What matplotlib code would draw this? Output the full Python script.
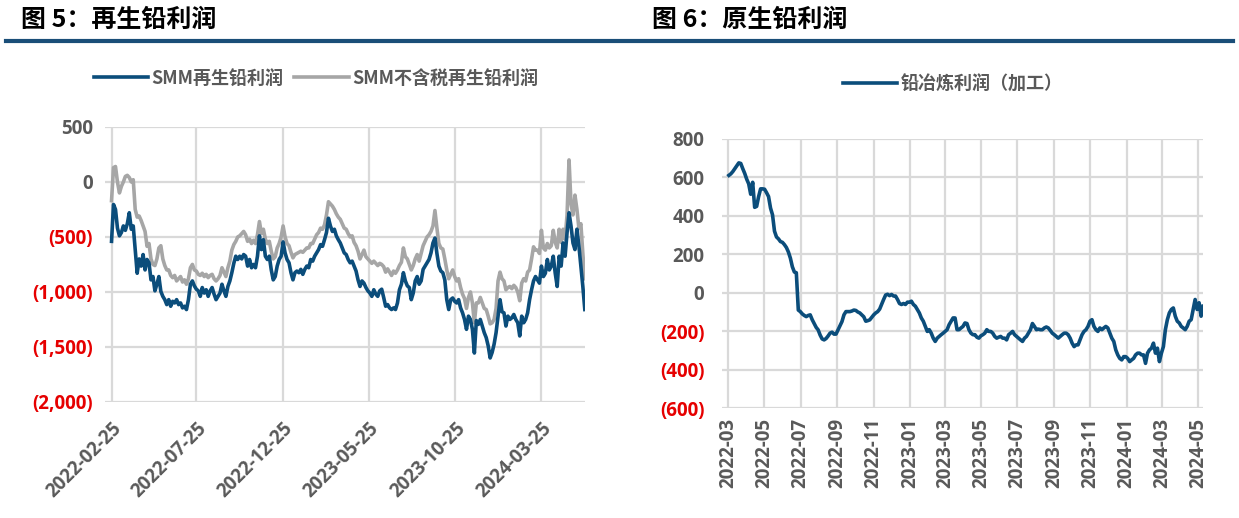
import matplotlib
matplotlib.use("Agg")
import matplotlib.pyplot as plt
from matplotlib.lines import Line2D
import pandas as pd

plt.rcParams['font.family'] = ['Noto Sans CJK SC', 'DejaVu Sans']
plt.rcParams['font.weight'] = 'bold'

# ---- 图5 数据：再生铅利润 (元/吨) ----
recycled_profit = [
    -540, -205, -250, -420, -490, -460, -400, -440, -380, -280,
    -430, -400, -615, -830, -700, -765, -660, -800, -705, -735,
    -890, -860, -990, -930, -860, -995, -1040, -1070, -1115, -1070,
    -1130, -1085, -1100, -1070, -1115, -1100, -1145, -1130, -1160, -1070,
    -930, -900, -945, -975, -990, -1040, -960, -1010, -980, -1040,
    -990, -960, -1020, -1070, -1040, -1010, -930, -990, -1040, -950,
    -900, -825, -740, -675, -705, -675, -700, -660, -675, -765,
    -705, -780, -750, -780, -675, -490, -615, -525, -675, -705,
    -675, -800, -890, -860, -765, -705, -675, -545, -645, -705,
    -735, -825, -890, -825, -810, -825, -795, -840, -795, -765,
    -780, -705, -720, -675, -645, -615, -570, -585, -525, -460,
    -330, -400, -450, -430, -490, -525, -555, -600, -645, -660,
    -705, -735, -720, -765, -810, -890, -950, -900, -920, -960,
    -990, -1010, -1040, -980, -1020, -1040, -990, -975, -1050, -1130,
    -1115, -1145, -1160, -1145, -1160, -1100, -980, -930, -825, -900,
    -945, -960, -1070, -1010, -900, -860, -930, -900, -795, -765,
    -735, -705, -645, -555, -510, -650, -765, -810, -825, -890,
    -1070, -1160, -1070, -1055, -1085, -1100, -1070, -1145, -1190, -1250,
    -1340, -1220, -1250, -1340, -1555, -1260, -1295, -1250, -1310, -1370,
    -1415, -1490, -1600, -1550, -1475, -1370, -1220, -1070, -1180, -1190,
    -1310, -1220, -1250, -1235, -1205, -1250, -1280, -1400, -1220, -1280,
    -1250, -1190, -1070, -980, -900, -860, -890, -920, -765, -860,
    -830, -705, -800, -765, -675, -830, -950, -675, -765, -555,
    -675, -460, -280, -400, -555, -615, -430, -580, -765, -950,
    -1160,
]
recycled_profit_notax = [
    -170, 130, 140, 0, -100, -40, 0, 50, 60, 40,
    0, 20, -250, -320, -310, -350, -400, -450, -585, -560,
    -700, -750, -760, -700, -600, -580, -700, -760, -800, -800,
    -850, -870, -850, -900, -880, -860, -910, -890, -930, -880,
    -780, -750, -800, -810, -840, -850, -830, -860, -840, -870,
    -850, -840, -880, -900, -880, -850, -780, -820, -860, -780,
    -720, -620, -570, -540, -500, -490, -470, -450, -480, -540,
    -520, -560, -530, -560, -480, -360, -470, -430, -520, -560,
    -540, -630, -700, -680, -600, -560, -500, -400, -500, -560,
    -580, -640, -690, -660, -650, -640, -630, -640, -620, -600,
    -600, -560, -560, -520, -480, -460, -420, -430, -390, -300,
    -180, -200, -220, -250, -290, -320, -340, -380, -420, -430,
    -470, -500, -490, -550, -580, -630, -700, -660, -620, -680,
    -700, -720, -740, -720, -740, -760, -740, -750, -770, -820,
    -790, -820, -850, -810, -830, -800, -760, -730, -600, -680,
    -700, -750, -800, -760, -700, -660, -720, -650, -580, -540,
    -500, -480, -450, -400, -260, -420, -560, -600, -610, -700,
    -800, -880, -840, -800, -860, -900, -880, -960, -1020, -1060,
    -1150, -1050, -1000, -1100, -1280, -1100, -1100, -1050, -1100, -1150,
    -1160, -1220, -1290, -1280, -1250, -1150, -900, -820, -880, -900,
    -980, -960, -950, -970, -940, -960, -1000, -1080, -920, -880,
    -900, -820, -800, -700, -590, -620, -620, -650, -440, -600,
    -620, -560, -600, -580, -440, -550, -600, -430, -550, -430,
    -520, -300, 200, -200, -300, -120, -250, -420, -380, -650,
    -880,
]
left_start, left_end = '2022-02-25', '2024-06-10'
left_ticks = ['2022-02-25', '2022-07-25', '2022-12-25', '2023-05-25', '2023-10-25', '2024-03-25']
left_yticks = [500, 0, -500, -1000, -1500, -2000]

# ---- 图6 数据：铅冶炼利润（加工） ----
smelting_profit = [
    610, 618, 630, 645, 660, 675, 672, 645, 620, 590,
    566, 512, 574, 444, 449, 500, 540, 540, 538, 520,
    500, 440, 405, 320, 290, 280, 266, 262, 250, 235,
    212, 180, 135, 108, 104, -90, -98, -110, -118, -124,
    -118, -115, -140, -160, -180, -193, -220, -240, -245, -238,
    -225, -210, -205, -215, -215, -193, -170, -150, -115, -98,
    -98, -98, -95, -90, -92, -100, -105, -115, -125, -148,
    -145, -141, -128, -115, -105, -98, -85, -60, -35, -12,
    -8, -15, -9, -17, -17, -35, -56, -61, -56, -61,
    -49, -49, -44, -61, -70, -87, -105, -131, -148, -175,
    -201, -192, -210, -236, -253, -236, -227, -218, -210, -201,
    -192, -166, -148, -131, -131, -192, -192, -183, -175, -157,
    -160, -192, -210, -218, -218, -231, -236, -224, -218, -210,
    -192, -201, -201, -210, -227, -236, -231, -227, -236, -236,
    -245, -218, -210, -201, -218, -227, -236, -245, -253, -236,
    -227, -210, -192, -160, -175, -192, -189, -192, -192, -183,
    -178, -183, -196, -210, -218, -227, -236, -227, -218, -210,
    -210, -218, -236, -262, -280, -271, -271, -245, -218, -201,
    -192, -175, -148, -140, -175, -192, -201, -183, -192, -183,
    -175, -183, -210, -236, -253, -297, -323, -341, -349, -332,
    -332, -341, -358, -349, -341, -323, -314, -314, -323, -323,
    -367, -314, -297, -288, -262, -314, -288, -358, -314, -280,
    -192, -140, -105, -87, -79, -122, -148, -157, -175, -183,
    -192, -175, -148, -140, -87, -35, -87, -52, -122, -70,
]
right_start, right_end = '2022-03-02', '2024-05-09'
right_ticks = pd.date_range('2022-03-01', '2024-05-01', freq='2MS')
right_yticks = [800, 600, 400, 200, 0, -200, -400, -600]

BLUE = '#0B4D7B'
GRAY = '#A6A6A6'
TXT = '#595959'
RED = '#E60000'
GRID = '#D9D9D9'
NUM_FONT = ['Open Sans', 'Noto Sans CJK SC', 'DejaVu Sans']


def num_label(v):
    if v < 0:
        return f'({abs(v):,})'
    return f'{v:,}'


def style_axes(ax, yticks, ypad):
    for s in ax.spines.values():
        s.set_visible(False)
    ax.grid(True, color=GRID, lw=1.6)
    ax.set_axisbelow(True)
    ax.tick_params(axis='y', length=0, labelsize=13.5, labelcolor=TXT, pad=ypad)
    ax.tick_params(axis='x', length=0, labelsize=13.5, labelcolor=TXT)
    ax.set_yticks(yticks, labels=[num_label(v) for v in yticks])
    for lbl, v in zip(ax.get_yticklabels(), yticks):
        lbl.set_color(RED if v < 0 else TXT)
        lbl.set_fontweight('bold')
        lbl.set_fontfamily(NUM_FONT)
    ax.set_ylim(min(yticks), max(yticks))


fig = plt.figure(figsize=(12.39, 5.18), dpi=100)

# 标题与分隔线
fig.text(0.017, 0.962, '图 5：再生铅利润', fontsize=18, fontweight='bold', va='center', color='black')
fig.text(0.526, 0.962, '图 6：原生铅利润', fontsize=18, fontweight='bold', va='center', color='black')
fig.add_artist(Line2D([0.005, 0.995], [0.921, 0.921], transform=fig.transFigure, color='#1A4E78', lw=3))

# 图5
ax1 = fig.add_axes([0.085, 0.224, 0.387, 0.531])
d1 = pd.date_range(left_start, left_end, periods=len(recycled_profit))
d2 = pd.date_range(left_start, left_end, periods=len(recycled_profit_notax))
ax1.plot(d1, recycled_profit, color=BLUE, lw=2.6, label='SMM再生铅利润', zorder=3)
ax1.plot(d2, recycled_profit_notax, color=GRAY, lw=2.6, label='SMM不含税再生铅利润', zorder=2)
style_axes(ax1, left_yticks, 9)
lt = pd.to_datetime(left_ticks)
ax1.set_xticks(lt, labels=left_ticks)
ax1.tick_params(axis='x', pad=12)
ax1.set_xlim(pd.Timestamp('2022-02-14'), pd.Timestamp(left_end))
for lbl in ax1.get_xticklabels():
    lbl.set_rotation(45)
    lbl.set_ha('right')
    lbl.set_rotation_mode('anchor')
    lbl.set_fontweight('bold')
    lbl.set_fontfamily(NUM_FONT)
h1, l1 = ax1.get_legend_handles_labels()
fig.legend(h1, l1, loc='center', bbox_to_anchor=(0.255, 0.849), ncol=2, frameon=False,
           handlelength=3, handletextpad=0.2, columnspacing=0.6,
           prop={'size': 13, 'weight': 'bold'}, labelcolor=TXT)

# 图6
ax2 = fig.add_axes([0.583, 0.212, 0.388, 0.520])
d3 = pd.date_range(right_start, right_end, periods=len(smelting_profit))
ax2.plot(d3, smelting_profit, color=BLUE, lw=2.6, label='铅冶炼利润（加工）')
style_axes(ax2, right_yticks, 13)
ax2.set_xticks(right_ticks, labels=[t.strftime('%Y-%m') for t in right_ticks])
ax2.tick_params(axis='x', pad=7)
ax2.set_xlim(pd.Timestamp('2022-02-19'), pd.Timestamp(right_end))
for lbl in ax2.get_xticklabels():
    lbl.set_rotation(90)
    lbl.set_fontweight('bold')
    lbl.set_fontfamily(NUM_FONT)
h2, l2 = ax2.get_legend_handles_labels()
fig.legend(h2, l2, loc='center', bbox_to_anchor=(0.769, 0.838), frameon=False,
           handlelength=3, handletextpad=0.2,
           prop={'size': 13, 'weight': 'bold'}, labelcolor=TXT)

fig.savefig('out.png', dpi=100)
